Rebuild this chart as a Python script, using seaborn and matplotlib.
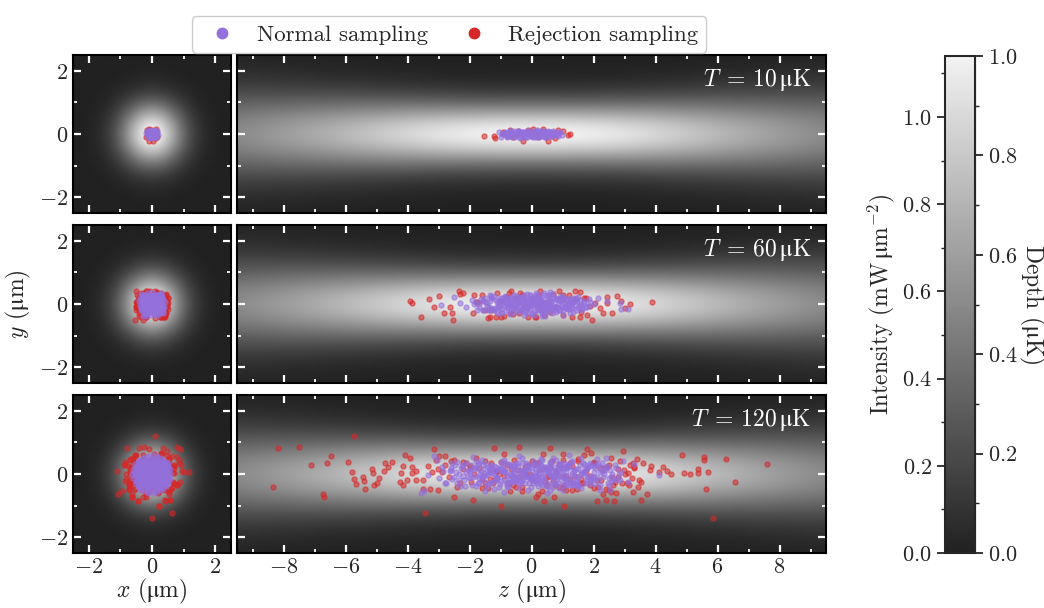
import numpy as np
import matplotlib
matplotlib.use("Agg")
import matplotlib.pyplot as plt
import seaborn as sns
from matplotlib.colors import LinearSegmentedColormap
from matplotlib.lines import Line2D
from matplotlib.ticker import MultipleLocator, FixedLocator

# --- data ---
temps = [10, 60, 120]

# beam: on-axis intensity (mW/um^2) and 1/e^2 radius (um) at |z| = 0..10 um
beam_z = [0, 1, 2, 3, 4, 5, 6, 7, 8, 9, 10]
beam_peak = [1.14, 1.13, 1.10, 1.05, 0.98, 0.90, 0.82, 0.74, 0.67, 0.60, 0.54]
beam_width = [1.40, 1.41, 1.43, 1.47, 1.53, 1.60, 1.68, 1.77, 1.86, 1.96, 2.06]
intensity_max = 1.14

# atom positions (x, y, z) in um
normal_10 = [
    (0.02, 0.01, -0.95), (-0.05, 0.05, -0.85), (0.08, -0.06, -0.78), (-0.10, 0.08, -0.70),
    (0.04, -0.10, -0.62), (0.12, 0.03, -0.55), (-0.14, -0.04, -0.48), (0.06, 0.11, -0.42),
    (-0.03, -0.12, -0.36), (0.15, 0.06, -0.30), (-0.08, 0.00, -0.24), (0.10, -0.08, -0.18),
    (-0.16, 0.10, -0.12), (0.00, -0.03, -0.06), (0.07, 0.09, 0.00), (-0.11, -0.10, 0.05),
    (0.13, 0.02, 0.11), (-0.04, 0.12, 0.17), (0.09, -0.11, 0.23), (-0.13, 0.04, 0.29),
    (0.03, -0.05, 0.35), (0.16, 0.08, 0.41), (-0.07, -0.09, 0.47), (0.05, 0.10, 0.54),
    (-0.12, 0.00, 0.60), (0.11, -0.07, 0.67), (-0.02, 0.06, 0.74), (0.08, -0.02, 0.82),
    (-0.09, 0.04, 0.90), (0.03, -0.04, 0.98), (-0.20, 0.02, -0.20), (0.18, -0.02, 0.30),
    (-0.06, 0.07, -1.05), (0.05, -0.07, 0.20), (-0.10, -0.02, 0.40), (0.12, 0.05, -0.65),
    (0.01, 0.03, -0.88), (-0.06, -0.06, -0.74), (0.09, 0.02, -0.66), (-0.03, 0.09, -0.58),
    (0.05, -0.04, -0.51), (-0.10, 0.05, -0.44), (0.12, -0.09, -0.38), (-0.01, 0.02, -0.31),
    (0.07, 0.07, -0.26), (-0.13, -0.07, -0.21), (0.02, 0.10, -0.15), (0.10, 0.00, -0.09),
    (-0.07, -0.05, -0.03), (0.04, 0.05, 0.02), (-0.02, -0.10, 0.08), (0.13, 0.08, 0.14),
    (-0.09, 0.01, 0.20), (0.06, -0.06, 0.26), (-0.12, 0.09, 0.33), (0.00, 0.03, 0.39),
    (0.10, -0.10, 0.45), (-0.05, 0.07, 0.51), (0.08, 0.01, 0.57), (-0.10, -0.06, 0.63),
    (0.03, 0.09, 0.70), (-0.04, -0.01, 0.77), (0.11, 0.05, 0.85), (-0.07, -0.08, -0.98),
    (0.02, -0.08, -0.80), (0.00, 0.05, 0.62),
    (0.04, 0.00, -0.92), (-0.08, 0.04, -0.83), (0.10, -0.05, -0.75), (-0.02, 0.08, -0.68),
    (0.06, -0.02, -0.60), (-0.11, -0.08, -0.53), (0.02, 0.06, -0.46), (0.09, 0.09, -0.40),
    (-0.06, -0.03, -0.34), (0.12, -0.06, -0.27), (-0.09, 0.07, -0.20), (0.00, -0.09, -0.14),
    (0.07, 0.03, -0.08), (-0.04, -0.06, -0.01), (0.11, 0.06, 0.06), (-0.12, 0.02, 0.12),
    (0.03, -0.08, 0.19), (-0.07, 0.09, 0.25), (0.08, -0.01, 0.32), (-0.01, 0.05, 0.38),
    (0.10, -0.09, 0.44), (-0.10, -0.02, 0.50), (0.05, 0.07, 0.56), (-0.05, -0.07, 0.63),
    (0.09, 0.04, 0.70), (-0.08, 0.01, 0.77), (0.01, -0.05, 0.84), (0.06, 0.06, 0.91),
    (-0.03, 0.00, -0.55), (0.00, 0.02, 0.25),
]
rejection_10 = [
    (0.05, -0.05, -1.52), (-0.12, -0.05, -1.22), (0.10, -0.14, -1.19), (-0.16, 0.13, -0.70),
    (0.08, 0.07, -0.92), (-0.10, 0.16, 0.05), (0.12, 0.16, 0.37), (0.02, -0.22, -0.28),
    (-0.08, -0.21, 0.52), (0.14, 0.00, 1.24), (-0.06, -0.03, 1.19), (0.10, 0.08, 1.02),
    (-0.14, 0.10, -0.45), (0.09, -0.13, 0.75), (-0.05, 0.12, 0.85), (0.17, -0.08, -0.60),
    (-0.18, -0.10, 0.20), (0.00, 0.14, -0.10),
]

normal_60 = [
    (0.12, 0.05, -0.10), (-0.20, -0.12, 0.35), (0.30, 0.18, -0.62), (-0.05, -0.25, 0.80),
    (0.22, -0.02, 1.20), (-0.33, 0.10, -1.05), (0.08, 0.28, 0.15), (-0.15, -0.05, -0.40),
    (0.35, -0.15, 0.55), (-0.28, 0.22, 1.50), (0.00, -0.18, -1.40), (0.18, 0.12, 0.90),
    (-0.10, 0.02, -0.80), (0.26, -0.28, 0.00), (-0.38, -0.02, 0.25), (0.05, 0.15, -0.25),
    (-0.22, 0.30, -0.55), (0.15, -0.10, 1.75), (-0.05, 0.08, 0.60), (0.32, 0.25, -1.20),
    (-0.18, -0.30, -0.95), (0.10, -0.22, 0.45), (-0.30, 0.14, 0.05), (0.20, 0.00, -1.70),
    (-0.12, 0.20, 1.05), (0.40, 0.05, 0.30), (-0.02, -0.10, -0.15), (0.25, 0.32, 0.70),
    (-0.35, -0.20, -0.30), (0.06, -0.32, -0.70), (-0.26, 0.04, 1.30), (0.14, 0.22, -0.45),
    (-0.08, -0.15, 0.20), (0.30, -0.05, -0.90), (-0.15, 0.35, 0.40), (0.02, 0.00, 2.00),
    (-0.40, 0.10, -0.05), (0.18, -0.35, 0.10), (-0.24, -0.08, 0.75), (0.36, 0.15, -0.35),
    (-0.06, 0.25, -1.30), (0.10, -0.12, -0.60), (-0.32, 0.28, 0.55), (0.24, 0.08, 1.45),
    (-0.16, -0.25, -0.20), (0.04, 0.12, 0.95), (0.28, -0.20, -1.55), (-0.20, 0.00, -1.85),
    (0.12, 0.30, -0.05), (-0.36, -0.12, 1.10), (0.08, -0.04, 0.50), (-0.10, 0.18, -0.75),
    (0.34, -0.30, 0.35), (-0.28, 0.06, -0.50), (0.16, 0.20, 0.25), (-0.04, -0.20, 1.60),
    (0.20, 0.10, -1.00), (-0.24, -0.32, 0.00), (0.00, 0.38, 0.60), (0.38, -0.10, 0.85),
    (-0.14, 0.12, 0.10), (0.10, -0.28, -1.10), (-0.30, -0.18, 0.30), (0.26, 0.28, -0.25),
    (-0.08, 0.05, 1.90), (0.14, -0.15, 0.65), (-0.38, 0.20, -0.85), (0.06, 0.02, -0.35),
    (-0.20, -0.38, 0.45), (0.30, 0.35, 0.15), (0.00, -0.08, -0.50), (0.22, -0.25, 1.35),
    (-0.34, 0.32, -0.15), (0.12, 0.00, 0.00), (-0.12, -0.02, 0.40), (0.02, 0.20, -0.95),
    (0.32, 0.02, 0.20), (-0.22, 0.15, 0.85), (0.18, -0.08, -0.15), (-0.05, -0.35, -0.25),
    (-0.10, -0.02, -2.92), (0.15, 0.23, -2.49), (-0.20, 0.02, -2.30), (0.05, 0.28, -1.35),
    (0.20, 0.30, 0.59), (-0.15, 0.20, 2.16), (0.10, 0.04, 2.84), (-0.05, -0.15, 2.90),
    (0.25, -0.15, 3.10), (-0.30, -0.38, 0.33), (0.12, -0.36, 1.00), (0.00, 0.10, 2.45),
    (-0.25, -0.10, -2.10), (0.30, 0.15, 1.85),
    (0.05, 0.10, -1.55), (-0.15, -0.05, -1.45), (0.22, 0.18, -1.32), (-0.28, -0.15, -1.22),
    (0.10, -0.22, -1.12), (-0.05, 0.20, -1.02), (0.30, 0.02, -0.92), (-0.20, 0.12, -0.84),
    (0.15, -0.12, -0.76), (-0.32, 0.05, -0.68), (0.00, -0.02, -0.60), (0.25, 0.24, -0.54),
    (-0.10, -0.25, -0.48), (0.18, 0.08, -0.42), (-0.26, 0.22, -0.36), (0.08, -0.16, -0.30),
    (-0.12, 0.06, -0.24), (0.32, -0.20, -0.18), (-0.22, -0.10, -0.12), (0.04, 0.16, -0.06),
    (0.20, -0.06, 0.00), (-0.30, 0.18, 0.06), (0.12, 0.22, 0.12), (-0.06, -0.20, 0.18),
    (0.28, 0.12, 0.24), (-0.18, -0.22, 0.30), (0.02, 0.04, 0.36), (-0.34, -0.06, 0.42),
    (0.16, -0.24, 0.48), (-0.08, 0.24, 0.54), (0.26, -0.02, 0.60), (-0.24, 0.10, 0.66),
    (0.06, -0.10, 0.72), (-0.14, 0.16, 0.78), (0.34, 0.14, 0.84), (-0.02, -0.18, 0.90),
    (0.20, 0.20, 0.96), (-0.28, -0.18, 1.02), (0.10, 0.00, 1.08), (-0.16, -0.04, 1.14),
    (0.24, -0.16, 1.20), (-0.04, 0.14, 1.26), (0.14, 0.06, 1.34), (-0.22, 0.20, 1.42),
    (0.02, -0.12, 1.50), (0.18, -0.02, 1.60), (-0.10, 0.10, 1.70), (0.08, -0.20, -1.75),
    (-0.30, -0.25, -0.95), (0.30, 0.28, -0.05), (-0.15, 0.30, 0.25), (0.10, -0.30, 0.65),
    (-0.25, 0.00, -0.70), (0.22, -0.08, -1.05), (-0.05, 0.00, 0.05), (0.36, -0.10, 0.45),
    (-0.36, 0.12, -0.45), (0.00, 0.25, -0.85), (0.12, -0.05, 0.30), (-0.20, -0.28, 1.25),
    (0.26, 0.06, -1.50), (-0.08, -0.08, 1.00), (0.06, 0.12, -0.20), (-0.30, 0.25, 0.95),
    (0.34, -0.25, -0.60), (-0.12, 0.02, 0.55), (0.16, 0.30, 0.40), (-0.22, -0.12, -1.30),
    (0.04, -0.28, -0.10), (0.24, 0.16, 1.15),
    (0.10, 0.05, -1.78), (-0.20, -0.10, -1.69), (0.25, 0.15, -1.62), (-0.05, -0.18, -1.57),
    (0.15, 0.20, -1.49), (-0.28, 0.02, -1.44), (0.02, -0.08, -1.38), (0.30, 0.10, -1.33),
    (-0.12, 0.18, -1.27), (0.20, -0.20, -1.24), (-0.22, -0.14, -1.18), (0.08, 0.12, -1.13),
    (-0.02, -0.02, -1.09), (0.27, -0.06, -1.04), (-0.16, 0.08, -0.99), (0.12, -0.16, -0.95),
    (-0.30, 0.16, -0.90), (0.05, 0.22, -0.86), (0.22, 0.04, -0.81), (-0.08, -0.22, -0.77),
    (-0.25, -0.04, -0.73), (0.18, 0.18, -0.69), (0.00, 0.08, -0.65), (-0.14, -0.12, -0.61),
    (0.28, -0.14, -0.57), (-0.06, 0.14, -0.53), (0.14, -0.04, -0.49), (-0.26, 0.10, -0.45),
    (0.06, -0.18, -0.41), (0.24, 0.20, -0.37), (-0.18, -0.20, -0.33), (0.10, 0.00, -0.29),
    (-0.04, 0.20, -0.25), (0.20, -0.10, -0.21), (-0.28, -0.08, -0.17), (0.02, 0.10, -0.13),
    (0.26, 0.06, -0.09), (-0.10, -0.14, -0.05), (0.16, 0.16, -0.01), (-0.22, 0.18, 0.03),
    (0.08, -0.22, 0.07), (-0.02, 0.04, 0.11), (0.30, -0.02, 0.15), (-0.16, -0.06, 0.19),
    (0.12, 0.20, 0.23), (-0.26, 0.12, 0.27), (0.04, -0.12, 0.31), (0.22, 0.08, 0.35),
    (-0.08, 0.16, 0.39), (0.18, -0.18, 0.43), (-0.20, -0.16, 0.47), (0.00, 0.00, 0.51),
    (0.28, 0.14, 0.55), (-0.12, 0.06, 0.59), (0.14, -0.08, 0.63), (-0.30, -0.02, 0.67),
    (0.06, 0.18, 0.71), (0.20, -0.14, 0.75), (-0.04, -0.20, 0.79), (-0.24, 0.20, 0.83),
    (0.10, 0.04, 0.87), (0.26, -0.20, 0.91), (-0.14, 0.10, 0.95), (0.02, -0.06, 0.99),
    (0.18, 0.22, 1.03), (-0.22, -0.10, 1.07), (0.08, 0.12, 1.11), (-0.06, -0.16, 1.15),
    (0.24, 0.00, 1.19), (-0.18, 0.16, 1.23), (0.12, -0.12, 1.27), (-0.28, 0.06, 1.31),
    (0.04, 0.18, 1.35), (0.20, -0.04, 1.39), (-0.10, -0.20, 1.43), (0.16, 0.10, 1.47),
    (-0.24, -0.06, 1.52), (0.00, 0.14, 1.57), (0.22, -0.16, 1.62), (-0.14, 0.02, 1.68),
    (0.10, -0.08, 1.75), (-0.05, 0.12, -1.92), (0.15, -0.05, 1.85), (-0.20, 0.06, -0.03),
    (0.05, -0.04, 0.45), (-0.10, 0.00, -0.70), (0.25, 0.10, 0.30), (-0.15, -0.08, 0.80),
    (0.12, 0.04, -0.40), (-0.05, -0.10, 1.30), (0.18, 0.06, -1.10), (-0.25, -0.18, 0.60),
    (0.05, 0.16, -0.20), (-0.08, 0.02, 0.20), (0.30, -0.10, -0.80), (-0.18, 0.12, 1.00),
    (0.10, -0.20, -1.35), (-0.02, 0.20, 0.95), (0.20, 0.12, -1.55), (-0.12, -0.04, 1.60),
]
rejection_60 = [
    (-0.45, 0.10, -3.93), (0.48, 0.02, -3.86), (-0.20, -0.40, -3.57), (0.42, 0.15, -3.30),
    (-0.50, -0.09, -3.14), (0.35, 0.25, -2.98), (0.38, -0.29, -2.82), (-0.32, -0.29, -2.55),
    (-0.27, -0.50, -2.52), (0.46, -0.09, -2.62), (-0.51, 0.41, -2.33), (0.15, 0.36, -2.22),
    (-0.30, 0.33, -2.30), (0.44, 0.28, -1.84), (-0.46, 0.07, -1.73), (0.45, -0.27, -1.90),
    (0.30, -0.40, -1.35), (-0.35, -0.40, -1.14), (0.38, -0.40, -0.98), (-0.35, 0.36, -0.74),
    (0.30, 0.34, -0.38), (0.10, 0.41, 0.27), (0.42, -0.40, 0.11), (0.40, -0.35, 1.03),
    (-0.20, 0.41, 1.41), (0.50, 0.18, 1.68), (-0.54, -0.50, 1.95), (-0.48, 0.04, 2.05),
    (0.36, -0.27, 2.32), (-0.42, 0.23, 2.43), (-0.40, -0.29, 2.60), (0.40, 0.25, 2.76),
    (0.47, 0.10, 2.89), (0.41, -0.14, 3.03), (-0.44, -0.01, 3.17), (0.20, 0.05, 3.90),
    (0.52, 0.02, 2.43), (-0.46, -0.14, 2.20), (0.25, -0.40, 1.57), (-0.50, -0.05, 1.90),
    (0.30, 0.30, -1.60), (-0.40, -0.20, -1.30), (0.45, 0.10, -1.00), (-0.42, 0.22, -0.80),
    (0.20, -0.32, -0.60), (-0.30, -0.30, -0.40), (0.48, -0.05, -0.20), (-0.45, 0.12, 0.00),
    (0.35, 0.30, 0.20), (-0.20, -0.35, 0.40), (0.40, -0.25, 0.60), (-0.48, -0.08, 0.80),
    (0.25, 0.28, 1.00), (-0.35, 0.30, 1.20), (0.42, 0.15, 1.40), (-0.30, -0.25, 1.60),
    (0.38, -0.35, 1.80), (-0.25, 0.35, -1.10), (0.50, 0.20, -0.50), (-0.50, 0.05, 0.50),
    (0.30, -0.40, 1.30), (-0.40, -0.38, -0.90), (0.45, 0.32, 0.70), (-0.15, 0.40, 0.90),
    (0.35, -0.42, -0.10), (-0.46, 0.30, -0.30), (0.10, -0.45, -1.40), (-0.05, 0.42, -0.65),
    (0.52, -0.15, 0.30), (-0.38, 0.18, 1.75), (0.32, 0.05, -1.80), (-0.50, -0.18, -1.50),
    (0.15, 0.38, 1.55), (-0.20, -0.42, 0.15), (0.45, -0.30, -0.70),
]

normal_120 = [
    (-0.14, 0.58, -0.4), (0.02, 0.60, 1.2), (0.16, 0.57, -3.15),
    (-0.40, 0.44, -1.6), (-0.26, 0.46, 0.3), (-0.11, 0.43, -3.04), (0.04, 0.47, 2.1),
    (0.19, 0.45, -0.9), (0.36, 0.43, 0.8),
    (-0.53, 0.31, 1.7), (-0.38, 0.28, -2.2), (-0.23, 0.32, 0.1), (-0.08, 0.29, -0.6),
    (0.07, 0.31, 3.3), (0.22, 0.28, -1.3), (0.37, 0.32, 0.9), (0.52, 0.29, 2.7),
    (-0.60, 0.14, -0.2), (-0.45, 0.16, 1.5), (-0.30, 0.13, -2.6), (-0.15, 0.17, 0.5),
    (0.00, 0.15, -1.0), (0.15, 0.12, 2.3), (0.30, 0.16, -0.1), (0.45, 0.14, 1.0),
    (0.58, 0.17, -1.8),
    (-0.62, 0.01, 0.2), (-0.47, -0.02, -3.33), (-0.32, 0.02, 1.3), (-0.17, -0.01, -0.7),
    (-0.02, 0.00, 2.83), (0.13, 0.02, -1.5), (0.28, -0.02, 0.6), (0.43, -0.04, 4.11),
    (0.58, -0.01, -0.3),
    (-0.60, -0.14, -3.0), (-0.45, -0.17, 0.4), (-0.30, -0.13, -1.1), (-0.15, -0.16, 1.8),
    (0.00, -0.15, -0.5), (0.15, -0.13, 2.5), (0.30, -0.17, 0.0), (0.45, -0.14, -2.0),
    (0.57, -0.16, 1.1),
    (-0.52, -0.29, -0.8), (-0.37, -0.31, 1.4), (-0.22, -0.28, -1.7), (-0.07, -0.32, 0.7),
    (0.08, -0.29, -0.2), (0.23, -0.31, 2.0), (0.38, -0.28, -2.8), (0.50, -0.30, 0.3),
    (-0.38, -0.50, 2.53), (-0.23, -0.46, -1.2), (-0.08, -0.43, 0.9), (0.07, -0.55, -3.46),
    (0.22, -0.44, 1.6), (0.36, -0.45, -0.4),
    (-0.13, -0.59, -3.56), (0.02, -0.59, 0.5), (0.15, -0.56, -0.9),
    (-0.30, 0.52, 0.7), (-0.15, 0.53, -1.9), (0.00, 0.51, 1.6), (0.15, 0.52, -0.3),
    (0.29, 0.50, 2.4),
    (-0.45, 0.37, -1.0), (-0.30, 0.38, 0.2), (-0.15, 0.36, 1.9), (0.00, 0.38, -2.4),
    (0.15, 0.37, 0.6), (0.30, 0.36, -0.5), (0.45, 0.38, 1.3),
    (-0.53, 0.22, -0.1), (-0.38, 0.23, 0.9), (-0.23, 0.21, -1.4), (-0.08, 0.22, 2.2),
    (0.07, 0.24, -0.7), (0.22, 0.21, 0.4), (0.37, 0.22, -2.9), (0.52, 0.23, 1.2),
    (-0.55, 0.07, 0.0), (-0.40, 0.08, -1.2), (-0.25, 0.06, 1.7), (-0.10, 0.07, -0.4),
    (0.05, 0.09, 0.8), (0.20, 0.06, -2.1), (0.35, 0.07, 2.9), (0.50, 0.08, -0.9),
    (-0.55, -0.07, 1.0), (-0.40, -0.09, -0.6), (-0.25, -0.08, 0.3), (-0.10, -0.06, -1.6),
    (0.05, -0.08, 2.0), (0.20, -0.09, -0.2), (0.35, -0.07, 1.4), (0.50, -0.08, -2.5),
    (-0.52, -0.22, 0.1), (-0.37, -0.24, -1.3), (-0.22, -0.23, 2.6), (-0.07, -0.21, -0.5),
    (0.08, -0.24, 0.7), (0.23, -0.22, -1.0), (0.38, -0.23, 1.9), (0.52, -0.21, -0.3),
    (-0.45, -0.37, -1.8), (-0.30, -0.39, 0.5), (-0.15, -0.38, -0.8), (0.00, -0.36, 1.1),
    (0.15, -0.39, -2.3), (0.30, -0.37, 0.2), (0.44, -0.38, 1.5),
    (-0.28, -0.51, 0.6), (-0.13, -0.53, -1.5), (0.02, -0.52, 2.2), (0.17, -0.50, -0.1),
    (0.30, -0.52, 1.0),
    (0.10, 0.10, -0.25), (-0.20, -0.05, 0.15), (0.30, 0.20, 0.45), (-0.35, -0.25, -0.55),
    (0.00, -0.30, 0.85), (0.25, 0.35, -0.85), (-0.10, 0.25, 1.15), (0.40, -0.10, -1.15),
    (-0.45, 0.10, 0.65), (0.15, -0.20, -0.35), (-0.25, 0.40, 0.05), (0.35, -0.35, 1.45),
    (-0.05, 0.00, -1.45), (0.20, 0.15, 0.25), (-0.30, -0.15, -0.05), (0.45, 0.30, 0.95),
    (-0.15, -0.40, -0.75), (0.05, 0.45, 0.35), (-0.40, -0.35, 1.25), (0.30, 0.00, -0.60),
    (0.10, 0.05, -2.45), (-0.30, -0.20, -2.35), (0.40, 0.25, -2.25), (-0.05, -0.38, -2.15),
    (0.25, 0.12, -2.05), (-0.45, 0.30, -1.95), (0.15, -0.10, -1.88), (-0.20, 0.40, -1.80),
    (0.35, -0.30, -1.72), (-0.10, 0.00, -1.65), (0.50, 0.15, -1.58), (-0.35, -0.05, -1.52),
    (0.05, 0.32, -1.46), (-0.25, -0.32, -1.40), (0.30, 0.05, -1.34), (-0.50, 0.18, -1.28),
    (0.20, -0.22, -1.22), (-0.15, 0.22, -1.16), (0.45, -0.15, -1.10), (-0.40, -0.40, -1.04),
    (0.00, 0.10, -0.98), (0.28, 0.38, -0.92), (-0.30, 0.08, -0.86), (0.12, -0.32, -0.80),
    (-0.08, 0.30, -0.74), (0.38, -0.02, -0.68), (-0.48, -0.22, -0.62), (0.18, 0.20, -0.56),
    (-0.20, -0.12, -0.50), (0.50, 0.35, -0.44), (-0.02, -0.25, -0.38), (0.32, 0.10, -0.32),
    (-0.38, 0.35, -0.26), (0.08, -0.05, -0.20), (-0.22, 0.20, -0.14), (0.42, -0.28, -0.08),
    (-0.12, -0.40, -0.02), (0.22, 0.28, 0.04), (-0.42, -0.10, 0.10), (0.02, 0.15, 0.16),
    (0.35, -0.18, 0.22), (-0.28, 0.30, 0.28), (0.12, -0.35, 0.34), (-0.05, 0.05, 0.40),
    (0.48, 0.22, 0.46), (-0.35, -0.28, 0.52), (0.20, 0.00, 0.58), (-0.15, 0.38, 0.64),
    (0.28, -0.40, 0.70), (-0.45, 0.12, 0.76), (0.05, -0.15, 0.82), (0.40, 0.32, 0.88),
    (-0.22, -0.05, 0.94), (0.15, 0.18, 1.00), (-0.32, -0.35, 1.06), (0.52, -0.05, 1.12),
    (-0.10, 0.25, 1.18), (0.25, -0.25, 1.24), (-0.40, 0.40, 1.30), (0.08, 0.08, 1.36),
    (0.36, 0.15, 1.42), (-0.18, -0.20, 1.48), (0.45, -0.35, 1.54), (-0.50, 0.00, 1.60),
    (0.00, 0.35, 1.66), (-0.28, 0.15, 1.72), (0.30, -0.10, 1.78), (-0.08, -0.32, 1.84),
    (0.18, 0.25, 1.90), (-0.38, -0.15, 1.96), (0.42, 0.05, 2.02), (-0.15, 0.30, 2.08),
    (0.10, -0.20, 2.14), (-0.30, 0.05, 2.20), (0.35, 0.35, 2.26), (-0.02, -0.08, 2.32),
    (0.22, 0.12, 2.38), (-0.45, 0.25, 2.44), (0.05, -0.35, 2.50), (-0.20, 0.00, 2.60),
    (0.00, 0.00, -1.20), (0.20, 0.20, -0.95), (-0.20, -0.20, -0.70), (0.30, -0.10, -0.45),
    (-0.30, 0.10, -0.20), (0.10, -0.30, 0.05), (-0.10, 0.30, 0.30), (0.40, 0.05, 0.55),
    (-0.40, -0.05, 0.80), (0.15, 0.35, 1.05), (-0.15, -0.35, 1.30), (0.05, 0.20, -1.05),
    (0.35, -0.25, -0.80), (-0.35, 0.25, -0.55), (0.25, 0.10, -0.30), (-0.25, -0.10, -0.05),
    (0.45, -0.15, 0.20), (-0.05, 0.15, 0.45), (0.10, -0.10, 0.70), (-0.45, 0.20, 0.95),
    (0.30, 0.30, 1.20), (-0.10, -0.25, 1.45), (0.20, -0.40, -1.45), (-0.20, 0.35, -1.70),
    (0.38, 0.20, -2.60), (-0.28, -0.30, -2.75), (0.05, 0.10, -2.85), (-0.10, -0.15, 2.75),
    (0.30, -0.20, 2.85), (-0.35, 0.35, -2.55), (0.15, 0.40, 2.95), (-0.40, -0.25, 3.10),
    (0.00, -0.05, -0.60), (0.15, 0.05, 0.15), (-0.15, -0.02, 0.65), (0.05, -0.18, 1.15),
    (-0.08, 0.12, -1.35), (0.25, -0.05, -2.20), (-0.25, 0.18, 1.80), (0.12, 0.28, -0.10),
    (0.05, 0.10, -2.62), (-0.25, -0.15, -2.55), (0.30, 0.30, -2.48), (-0.10, -0.30, -2.40),
    (0.20, 0.00, -2.33), (-0.35, 0.20, -2.26), (0.10, -0.20, -2.19), (-0.05, 0.35, -2.12),
    (0.35, -0.10, -2.05), (-0.20, 0.05, -1.98), (0.00, -0.35, -1.92), (0.25, 0.20, -1.86),
    (-0.40, -0.05, -1.80), (0.15, 0.32, -1.74), (-0.10, -0.12, -1.68), (0.40, 0.08, -1.62),
    (-0.28, 0.28, -1.56), (0.05, -0.25, -1.50), (0.22, -0.02, -1.44), (-0.15, 0.15, -1.38),
    (0.32, -0.30, -1.32), (-0.05, 0.02, -1.26), (0.12, 0.25, -1.20), (-0.38, -0.20, -1.14),
    (0.28, 0.12, -1.08), (-0.20, -0.32, -1.02), (0.02, 0.18, -0.96), (0.42, -0.15, -0.90),
    (-0.30, 0.08, -0.84), (0.15, -0.05, -0.78), (-0.08, 0.32, -0.72), (0.25, -0.25, -0.66),
    (-0.42, 0.15, -0.60), (0.08, 0.05, -0.54), (-0.18, -0.18, -0.48), (0.35, 0.25, -0.42),
    (-0.02, -0.30, -0.36), (0.20, 0.10, -0.30), (-0.32, -0.05, -0.24), (0.10, 0.35, -0.18),
    (-0.12, -0.10, -0.12), (0.40, -0.05, -0.06), (-0.25, 0.22, 0.00), (0.05, -0.18, 0.06),
    (0.22, 0.30, 0.12), (-0.38, -0.28, 0.18), (0.15, 0.00, 0.24), (-0.05, 0.15, 0.30),
    (0.30, -0.22, 0.36), (-0.20, 0.05, 0.42), (0.00, -0.38, 0.48), (0.38, 0.15, 0.54),
    (-0.30, 0.32, 0.60), (0.12, -0.10, 0.66), (-0.10, 0.22, 0.72), (0.25, -0.32, 0.78),
    (-0.42, -0.10, 0.84), (0.05, 0.08, 0.90), (0.30, 0.25, 0.96), (-0.18, -0.22, 1.02),
    (0.15, -0.15, 1.08), (-0.32, 0.18, 1.14), (0.02, 0.32, 1.20), (0.40, -0.20, 1.26),
    (-0.12, -0.02, 1.32), (0.22, 0.12, 1.38), (-0.25, -0.35, 1.44), (0.08, -0.08, 1.50),
    (-0.05, 0.28, 1.56), (0.35, 0.05, 1.62), (-0.35, 0.02, 1.68), (0.18, -0.28, 1.74),
    (-0.15, 0.20, 1.80), (0.28, 0.30, 1.86), (0.00, -0.15, 1.92), (-0.28, -0.10, 1.98),
    (0.12, 0.18, 2.04), (0.38, -0.08, 2.10), (-0.10, 0.32, 2.16), (0.20, -0.35, 2.22),
    (-0.40, 0.10, 2.28), (0.05, 0.00, 2.34), (0.28, 0.22, 2.40), (-0.20, -0.28, 2.46),
    (0.15, 0.12, 2.52), (-0.05, -0.10, 2.58), (0.30, -0.15, 2.66), (-0.25, 0.18, 2.72),
    (0.00, 0.05, -0.90), (0.10, -0.05, 0.00), (-0.10, 0.08, 0.90), (0.20, -0.12, -1.60),
    (-0.15, 0.00, 1.60), (0.05, 0.12, -0.35), (-0.20, -0.08, 0.35), (0.25, 0.05, 1.10),
    (-0.30, -0.12, -1.10), (0.15, 0.20, 0.60), (-0.05, -0.22, -0.60), (0.32, 0.10, -2.00),
    (-0.12, 0.25, 2.00), (0.08, -0.28, 1.35), (-0.22, 0.12, -1.35), (0.18, -0.02, 0.80),
    (-0.35, 0.25, -0.15), (0.28, -0.18, 0.15), (0.00, 0.22, -1.80), (-0.08, -0.05, 1.85),
]
rejection_120 = [
    (0.35, 0.81, -8.17), (-0.25, 0.85, -7.51), (0.09, 1.21, -5.74), (0.62, 0.57, -6.47),
    (-0.90, 0.28, -7.12), (0.20, 0.34, -6.60), (-0.70, -0.42, -8.34), (0.55, -0.63, -6.74),
    (-0.30, -0.74, -6.68), (-0.55, 0.37, -5.92), (1.00, 0.07, -5.79), (-0.30, -0.17, -5.74),
    (0.78, -0.33, -5.65), (0.10, -0.47, -5.36), (-0.85, -0.21, -5.39), (0.40, -0.08, -5.43),
    (-0.20, 0.16, -5.16), (0.70, 0.04, -5.12), (-0.60, -0.12, -4.93), (0.25, -0.27, -4.98),
    (-0.45, -0.36, -5.09), (0.85, 0.36, -4.74), (-0.35, 0.39, -4.51), (0.15, 0.21, -4.63),
    (-1.10, 0.10, -4.76), (-0.50, 0.59, -4.08), (0.55, 0.52, -3.92), (-0.75, 0.26, -4.14),
    (0.30, 0.23, -3.84), (0.65, 0.04, -4.21), (-0.15, 0.04, -3.86), (0.90, -0.25, -4.24),
    (-0.20, -0.35, -4.14), (-0.70, -0.19, -4.01), (0.45, -0.19, -3.72), (-0.50, 0.09, -3.71),
    (0.60, -0.49, -3.49), (-0.55, -0.47, -3.27), (0.30, -0.51, -3.01), (0.62, -1.22, -3.43),
    (-0.09, 0.79, -3.13), (0.46, 0.58, -2.97), (-0.70, 0.44, -3.08), (0.60, 0.16, -3.01),
    (0.31, 0.63, 0.38), (-0.55, 0.61, 1.70), (0.30, 0.65, 1.92), (0.46, 0.74, 2.95),
    (-0.60, 0.52, 2.55), (0.55, 0.46, 3.41), (-0.66, 0.23, 3.30), (0.71, 0.26, 3.86),
    (-0.30, 0.13, 3.81), (1.17, 0.07, 4.11), (-0.40, 0.23, 4.24), (0.96, 0.10, 4.38),
    (-0.70, -0.01, 4.49), (-0.27, 0.60, 4.85), (0.30, 0.04, 4.92), (-0.83, 0.00, 5.10),
    (0.50, 0.16, 5.38), (-0.15, 0.02, 5.38), (0.80, 0.55, 5.55), (0.86, 0.44, 5.57),
    (-0.45, 0.05, 5.68), (-0.72, -0.47, 5.63), (-0.01, -1.40, 5.85), (0.20, 0.48, 6.29),
    (0.66, -0.25, 6.55), (-0.85, 0.31, 7.60), (0.57, -0.82, 3.54), (-0.62, -0.64, 3.71),
    (0.20, -0.56, 3.29), (-0.58, -0.24, 3.52), (0.50, -0.19, 3.48), (-0.20, -0.14, 3.25),
    (0.66, -0.29, 3.08), (-0.74, -0.29, 2.92), (-0.43, -0.85, 2.65), (0.41, -0.82, 2.41),
    (-0.20, -0.63, 2.30), (0.55, -0.58, 2.57), (0.20, -0.59, 2.74), (0.78, -0.35, 2.62),
    (-0.60, -0.08, 2.78), (0.40, 0.02, 3.10), (-0.70, 0.13, 2.97), (0.71, 0.28, 3.19),
    (-0.50, 0.34, 3.28), (0.23, -1.01, 1.05), (-0.62, -0.72, 0.73), (-0.20, -0.72, 0.16),
    (0.64, -0.45, 1.03), (-0.55, -0.47, 1.46), (0.40, -0.45, 2.00), (-0.70, -0.19, 2.11),
    (0.60, 0.23, 2.43), (-0.55, 0.36, 2.00), (0.50, 0.34, 1.24), (-0.74, -0.35, 0.76),
    (-0.80, 0.81, -1.2), (-0.40, 0.83, 0.6), (0.80, 0.84, -0.4), (0.89, 0.79, 1.8),
    (-0.85, 0.39, -2.2), (0.92, 0.28, 0.9), (-0.83, -0.16, -1.6), (-1.09, -0.64, 0.2),
    (-0.96, -0.54, -0.7), (-0.72, -0.51, 1.3), (-0.62, -0.74, -2.5), (-0.43, -0.84, 2.1),
    (0.23, -1.01, -1.0), (0.41, -0.84, 0.4), (0.57, -0.82, -1.9), (-0.70, 0.07, 0.8),
    (-0.66, 0.23, -0.2), (-0.70, 0.46, 1.5), (-0.55, 0.56, -2.8), (0.05, 0.62, -0.9),
    (0.27, 0.62, 1.0), (0.55, 0.36, -1.3), (0.55, -0.49, 2.4), (0.20, -0.55, -0.3),
    (-0.32, -0.50, 1.1), (-0.58, -0.28, -1.5), (-0.74, -0.34, 0.5), (0.78, -0.35, -0.6),
    (0.66, -0.30, 1.6), (0.71, 0.20, -2.0),
    (0.30, 0.40, -2.6), (-0.45, -0.30, -2.3), (0.10, 0.50, -1.8), (-0.20, -0.45, -1.4),
    (0.50, 0.10, -1.1), (-0.35, 0.30, -0.8), (0.25, -0.40, -0.5), (-0.55, 0.00, -0.2),
    (0.15, 0.35, 0.1), (-0.10, -0.55, 0.35), (0.45, -0.20, 0.7), (-0.30, 0.45, 1.0),
    (0.35, 0.25, 1.3), (-0.50, -0.15, 1.6), (0.05, -0.35, 1.9), (-0.15, 0.20, 2.2),
    (0.40, -0.50, 2.5), (-0.40, 0.15, 2.8), (0.20, 0.05, -2.9), (-0.05, -0.20, -1.2),
    (0.55, 0.30, -0.1), (-0.25, -0.10, 0.5), (0.10, 0.25, -2.0), (-0.60, 0.40, 0.0),
    (0.30, -0.05, 1.1),
    (0.10, 0.30, -2.80), (-0.20, -0.10, -2.65), (0.30, 0.45, -2.50), (-0.10, -0.40, -2.40),
    (0.20, 0.15, -2.20), (-0.30, 0.35, -2.10), (0.00, -0.25, -1.95), (0.35, 0.00, -1.85),
    (-0.25, 0.20, -1.70), (0.15, -0.45, -1.60), (-0.05, 0.40, -1.50), (0.25, -0.15, -1.35),
    (-0.35, -0.30, -1.25), (0.05, 0.10, -1.15), (0.30, 0.38, -1.00), (-0.15, -0.05, -0.90),
    (0.20, -0.30, -0.75), (-0.30, 0.15, -0.65), (0.00, 0.45, -0.55), (0.40, -0.10, -0.40),
    (-0.20, -0.42, -0.30), (0.10, 0.25, -0.15), (-0.40, 0.00, -0.05), (0.25, -0.20, 0.10),
    (-0.10, 0.35, 0.20), (0.35, 0.15, 0.30), (-0.25, -0.25, 0.45), (0.05, -0.05, 0.55),
    (-0.35, 0.40, 0.65), (0.20, 0.05, 0.80), (-0.05, -0.40, 0.90), (0.30, -0.35, 1.05),
    (-0.20, 0.25, 1.15), (0.10, -0.15, 1.25), (-0.40, -0.05, 1.40), (0.25, 0.42, 1.50),
    (0.00, -0.30, 1.65), (-0.30, 0.10, 1.75), (0.35, -0.05, 1.90), (-0.10, 0.38, 2.00),
    (0.15, -0.42, 2.15), (-0.35, -0.20, 2.25), (0.05, 0.20, 2.35), (0.30, 0.30, 2.50),
    (-0.15, -0.10, 2.60), (0.40, -0.25, 2.70), (-0.25, 0.42, 2.85), (0.10, 0.00, 3.00),
    (-0.05, -0.35, 3.15), (0.25, 0.18, 3.30), (-0.30, -0.40, 3.45), (0.15, 0.35, 3.60),
    (-0.10, 0.05, -3.20), (0.20, -0.20, -3.50), (-0.25, 0.25, -3.35), (0.00, -0.05, 1.00),
    (0.12, 0.12, -0.45), (-0.12, -0.18, 0.00), (0.30, 0.22, 0.60), (-0.18, 0.00, -1.05),
]

normal_sets = [normal_10, normal_60, normal_120]
rejection_sets = [rejection_10, rejection_60, rejection_120]

# --- style ---
sns.set_style("ticks")
plt.rcParams["font.family"] = ["cmr10", "DejaVu Serif"]
plt.rcParams["mathtext.fontset"] = "cm"
plt.rcParams["axes.formatter.use_mathtext"] = True
plt.rcParams["font.size"] = 16
plt.rcParams["axes.unicode_minus"] = True

purple = "#9370db"
red = "#d62728"
cmap = LinearSegmentedColormap.from_list("beam", ["#212121", "#f2f2f2"])

# intensity tables built from the beam profile values
zcols = np.concatenate([-np.array(beam_z[:0:-1]), beam_z])
peak_cols = np.array(beam_peak[:0:-1] + beam_peak)
width_cols = np.array(beam_width[:0:-1] + beam_width)
yrows = np.linspace(-2.55, 2.55, 103)
side_view = peak_cols[None, :] * np.exp(-2 * yrows[:, None] ** 2 / width_cols[None, :] ** 2)
xcols = np.linspace(-2.55, 2.55, 103)
front_view = beam_peak[0] * np.exp(
    -2 * (xcols[None, :] ** 2 + yrows[:, None] ** 2) / beam_width[0] ** 2)

W, H = 1044, 608
fig = plt.figure(figsize=(W / 100, H / 100), dpi=100)

row_tops = [55, 225, 395]
panel_h = 158
MU = r"$\mathrm{μ}$"


def style_ax(ax):
    for sp in ax.spines.values():
        sp.set_linewidth(1.5)
        sp.set_color("black")
    ax.tick_params(which="both", direction="in", color="white",
                   top=True, right=True, bottom=True, left=True)
    ax.tick_params(which="major", length=6, width=1.6, labelsize=16)
    ax.tick_params(which="minor", length=3, width=1.3)
    ax.xaxis.set_major_locator(MultipleLocator(2))
    ax.xaxis.set_minor_locator(MultipleLocator(1))
    ax.yaxis.set_major_locator(MultipleLocator(2))
    ax.yaxis.set_minor_locator(MultipleLocator(1))


def draw_points(ax, pts, col, hor):
    arr = np.array(pts)
    sns.scatterplot(x=arr[:, hor], y=arr[:, 1], ax=ax, color=col,
                    edgecolor=col, s=13, linewidth=1.0, alpha=0.55,
                    legend=False, zorder=3)


im = None
for i, T in enumerate(temps):
    bottom = 1 - (row_tops[i] + panel_h) / H
    axl = fig.add_axes([73 / W, bottom, 158 / W, panel_h / H])
    axr = fig.add_axes([237 / W, bottom, 589 / W, panel_h / H])

    axl.imshow(front_view, extent=(-2.55, 2.55, -2.55, 2.55), origin="lower",
               cmap=cmap, vmin=0, vmax=intensity_max, aspect="auto",
               interpolation="bilinear")
    im = axr.imshow(side_view, extent=(zcols[0] - 0.5, zcols[-1] + 0.5, -2.55, 2.55),
                    origin="lower", cmap=cmap, vmin=0, vmax=intensity_max,
                    aspect="auto", interpolation="bicubic")

    draw_points(axl, rejection_sets[i], red, 0)
    draw_points(axl, normal_sets[i], purple, 0)
    draw_points(axr, rejection_sets[i], red, 2)
    draw_points(axr, normal_sets[i], purple, 2)

    axl.set_xlim(-2.5, 2.5)
    axl.set_ylim(-2.5, 2.5)
    axr.set_xlim(-9.5, 9.5)
    axr.set_ylim(-2.5, 2.5)
    for ax in (axl, axr):
        style_ax(ax)
    axr.tick_params(labelleft=False)
    if i < 2:
        axl.tick_params(labelbottom=False)
        axr.tick_params(labelbottom=False)
    else:
        axl.set_xlabel(r"$x$ (" + MU + "m)", fontsize=17, labelpad=0)
        axr.set_xlabel(r"$z$ (" + MU + "m)", fontsize=17, labelpad=0)
    if i == 1:
        axl.set_ylabel(r"$y$ (" + MU + "m)", fontsize=17, labelpad=4)

    axr.text(0.975, 0.84, rf"$T\;=\,{T}\,\mathrm{{μK}}$", transform=axr.transAxes,
             ha="right", va="center", color="white", fontsize=17)

# colorbar: intensity on the left, trap depth on the right
cax = fig.add_axes([945 / W, 1 - 553 / H, 30 / W, (553 - 56) / H])
cb = fig.colorbar(im, cax=cax)
cb.outline.set_linewidth(1.5)
cax.yaxis.set_ticks_position("left")
cax.yaxis.set_label_position("left")
cax.yaxis.set_major_locator(FixedLocator([0, 0.2, 0.4, 0.6, 0.8, 1.0]))
cax.yaxis.set_minor_locator(FixedLocator([0.1, 0.3, 0.5, 0.7, 0.9, 1.1]))
cax.tick_params(which="major", direction="out", length=6, width=1.3, labelsize=16)
cax.tick_params(which="minor", direction="out", length=3, width=1.0)
cax.set_ylabel(r"Intensity (mW$\,\mathrm{μ}$m$^{-2}$)", fontsize=17)
dax = cax.secondary_yaxis("right", functions=(lambda v: v / intensity_max,
                                              lambda v: v * intensity_max))
dax.yaxis.set_major_locator(FixedLocator([0, 0.2, 0.4, 0.6, 0.8, 1.0]))
dax.yaxis.set_minor_locator(FixedLocator([0.1, 0.3, 0.5, 0.7, 0.9]))
dax.tick_params(which="major", direction="out", length=6, width=1.3, labelsize=16)
dax.tick_params(which="minor", direction="out", length=3, width=1.0)
dax.set_ylabel(r"Depth (" + MU + "K)", rotation=270, labelpad=20, fontsize=17)

handles = [
    Line2D([], [], marker="o", linestyle="", color=purple, markersize=7.5),
    Line2D([], [], marker="o", linestyle="", color=red, markersize=7.5),
]
fig.legend(handles, ["Normal sampling", "Rejection sampling"], loc="upper center",
           bbox_to_anchor=(449 / W, 1 - 5 / H), ncol=2, fontsize=16.5,
           frameon=True, edgecolor="0.8", framealpha=1, handletextpad=0.5,
           columnspacing=1.0, borderpad=0.35)

fig.savefig("out.png", dpi=100)
